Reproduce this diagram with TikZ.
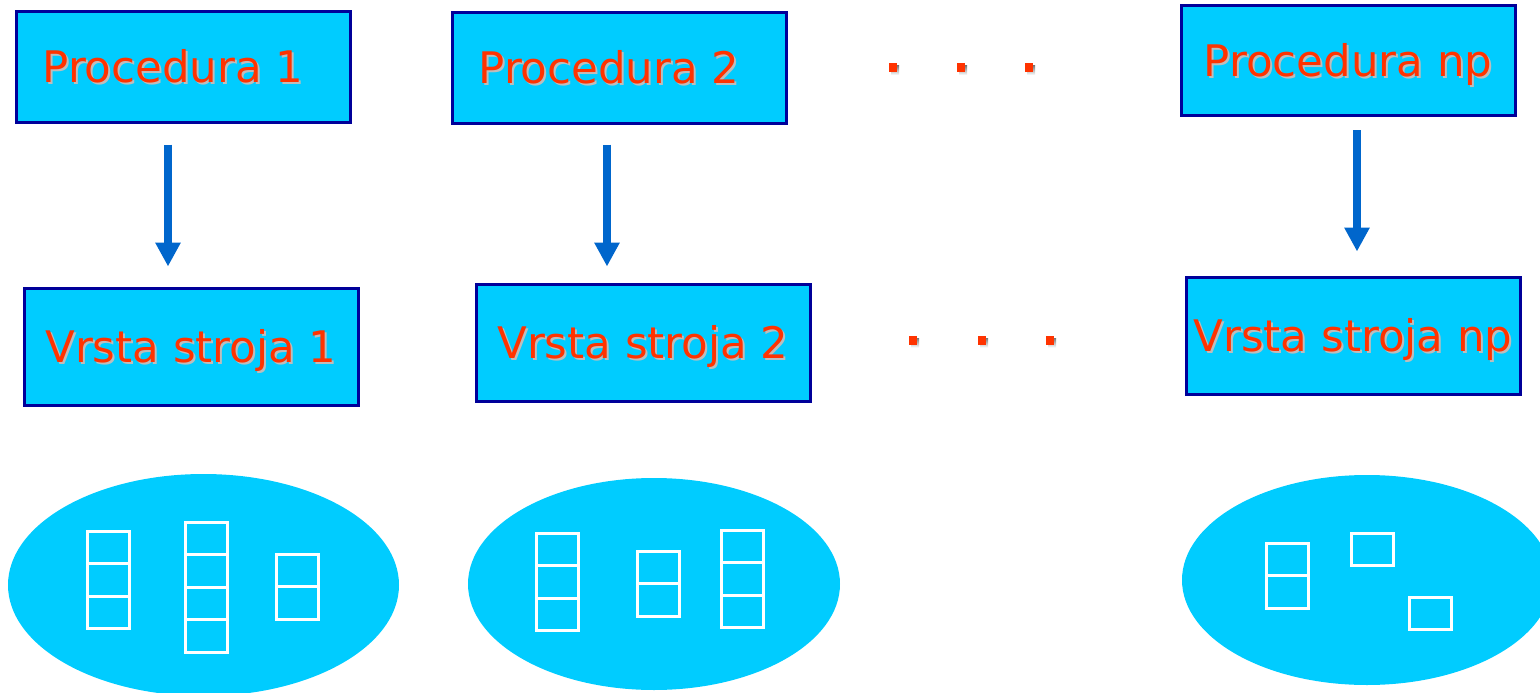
\documentclass[tikz,border=0pt]{standalone}
\usepackage{fontspec}
\setmainfont{DejaVu Sans}
\usetikzlibrary{arrows.meta}
\definecolor{boxfill}{HTML}{00CCFF}
\definecolor{boxline}{HTML}{000099}
\definecolor{txtred}{HTML}{FF3300}
\definecolor{arrblue}{HTML}{0066CC}
\definecolor{shade}{HTML}{BDBDBD}
\newcommand{\shtext}[1]{\makebox[0pt][l]{\hspace{2pt}\raisebox{-2pt}{\textcolor{shade}{#1}}}\textcolor{txtred}{#1}}

\begin{document}
\begin{tikzpicture}[x=1pt, y=-1pt,
        proc/.style={rectangle, draw=boxline, fill=boxfill, line width=3pt, minimum width=334pt, minimum height=110pt, inner sep=0pt, text height=31.5pt, text depth=0pt, font=\fontsize{43.5}{50}\selectfont},
        vrsta/.style={proc, minimum height=117pt},
        arr/.style={-{Triangle[width=24pt,length=24pt]}, line width=8pt, draw=arrblue},
        pool/.style={fill=boxfill},
        cell/.style={draw=white, line width=3pt}
        ]
      \useasboundingbox (0,0) rectangle (1540,693);

      \node[proc] (p1) at (183,67) {\kern-20pt\shtext{Procedura 1}};
      \node[proc] (p2) at (619,68) {\kern-20pt\shtext{Procedura 2}};
      \node[proc] (pn) at (1348,60.5) {\shtext{Procedura np}};
      \node[vrsta] (v1) at (191,346.5) {\shtext{Vrsta stroja 1}};
      \node[vrsta] (v2) at (643,342.5) {\shtext{Vrsta stroja 2}};
      \node[vrsta] (vn) at (1353,335.5) {\shtext{Vrsta stroja np}};

      \draw[arr, shorten <=21pt, shorten >=20pt] ([xshift=-15pt]p1.south) -- ([xshift=-15pt]p1.south |- v1.north);
      \draw[arr, shorten <=20pt, shorten >=16pt] ([xshift=-12pt]p2.south) -- ([xshift=-12pt]p2.south |- v2.north);
      \draw[arr, shorten <=13pt, shorten >=24pt] ([xshift=9pt]pn.south) -- ([xshift=9pt]pn.south |- vn.north);

      % dots between the columns
      \foreach \x/\y in {893/67.5, 961/67.5, 1029/67.5, 913/340, 982/340, 1050/340} {
        \fill[shade] (\x-2,\y-1.5) rectangle ++(8,9);
        \fill[txtred] (\x-4,\y-4.5) rectangle ++(8,9);
      }

      % machine pools
      \fill[pool] (203.5,585) ellipse [x radius=195.5pt, y radius=111pt];
      \fill[pool] (654,584) ellipse [x radius=186pt, y radius=106pt];
      \fill[pool] (1367,580) ellipse [x radius=185pt, y radius=105pt];

      \foreach \x/\y/\n in {87/531/3, 185/522/4, 276/554/2, 536/533/3, 637/551/2, 721/530/3, 1266/543/2, 1351/533/1, 1409/597/1} {
        \foreach \k in {1,...,\n}
          \draw[cell] (\x,\y+\k*32.5-32.5) rectangle ++(42,32.5);
      }

    \end{tikzpicture}
\end{document}
